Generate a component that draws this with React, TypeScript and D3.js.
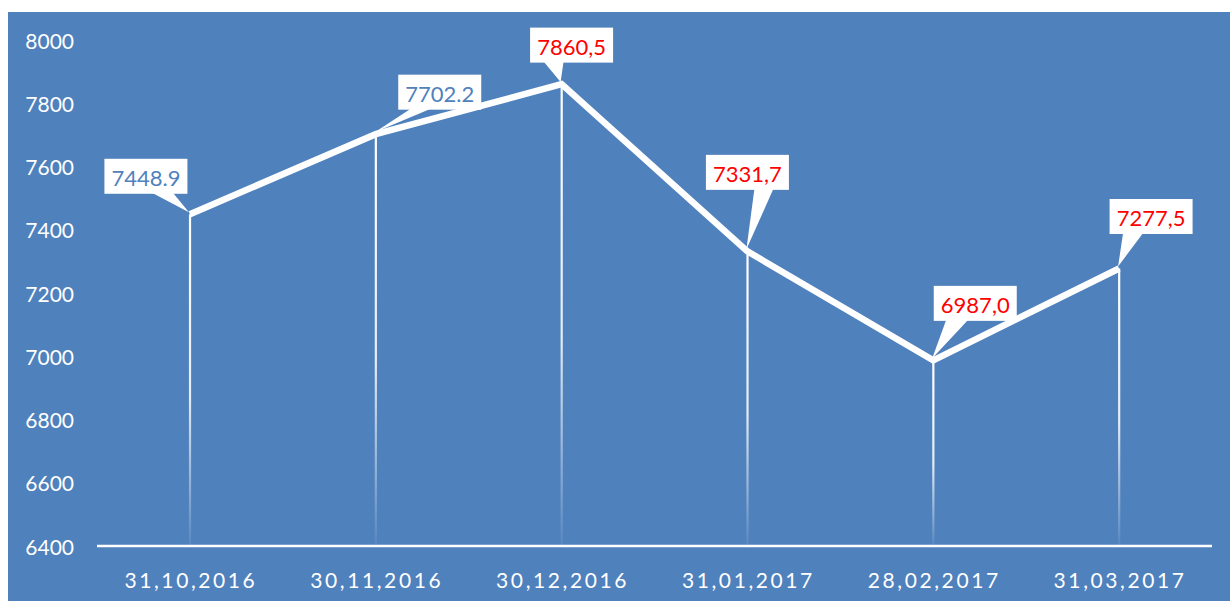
import * as d3 from 'd3'

const DATES = ['31,10,2016', '30,11,2016', '30,12,2016', '31,01,2017', '28,02,2017', '31,03,2017']
const VALUES = [7448.9, 7702.2, 7860.5, 7331.7, 6987.0, 7277.5]
const LABELS = ['7448.9', '7702.2', '7860,5', '7331,7', '6987,0', '7277,5']
const Y_TICKS = [6400, 6600, 6800, 7000, 7200, 7400, 7600, 7800, 8000]

// callout placement relative to the point (box centre offset, pointer base on box bottom)
const CALLOUT = [
  { dx: -44, dy: -38, b0: 6, b1: 27, color: '#4f81bd' },
  { dx: 64, dy: -42, b0: -29, b1: -9, color: '#4f81bd' },
  { dx: 10, dy: -39, b0: -28, b1: -8, color: '#ff0000' },
  { dx: 0, dy: -79, b0: 7, b1: 26, color: '#ff0000' },
  { dx: 42, dy: -57, b0: -29, b1: -7, color: '#ff0000' },
  { dx: 32, dy: -52, b0: -28, b1: -8, color: '#ff0000' },
]

const W = 1230
const H = 601
const BG = '#4f81bd'
const FONT = 'Lato, "Open Sans", sans-serif'
const M = { top: 40, right: 18, bottom: 55, left: 97 }
const BOX_W = 83
const BOX_H = 35

export default function App() {
  const x = d3.scaleBand<string>().domain(DATES).range([M.left, W - M.right])
  const y = d3.scaleLinear().domain([6400, 8000]).range([H - M.bottom, M.top])
  const cx = (d: string) => (x(d) ?? 0) + x.bandwidth() / 2
  const pts: [number, number][] = VALUES.map((v, i) => [cx(DATES[i]), y(v)])
  const line = d3.line()(pts) ?? ''
  const base = y(6400)

  return (
    <div style={{ position: 'fixed', left: 0, top: 0 }}>
      <svg width={W} height={H} style={{ display: 'block' }}>
        <defs>
          <linearGradient id="drop" x1="0" y1="0" x2="0" y2="1">
            <stop offset="0" stopColor="#fff" stopOpacity={1} />
            <stop offset="0.55" stopColor="#fff" stopOpacity={0.85} />
            <stop offset="1" stopColor="#fff" stopOpacity={0.05} />
          </linearGradient>
        </defs>
        <rect x={8} y={12} width={W - 8} height={H - 12} fill={BG} />

        {Y_TICKS.map(t => (
          <text key={t} x={74} y={y(t)} textAnchor="end" dominantBaseline="central"
            fill="#fff" fontFamily={FONT} fontSize={21}>{t}</text>
        ))}

        {DATES.map(d => (
          <text key={d} x={cx(d) + 1} y={base + 33} textAnchor="middle" dominantBaseline="central"
            fill="#fff" fontFamily={FONT} fontSize={21} letterSpacing={2.6}>{d}</text>
        ))}

        {pts.map(([px, py], i) => (
          <rect key={i} x={px - 1} y={py} width={2.2} height={base - py} fill="url(#drop)" />
        ))}

        <line x1={M.left} x2={W - M.right} y1={base} y2={base} stroke="#fff" strokeWidth={2.5} />

        <path d={line} fill="none" stroke="#fff" strokeWidth={6.5} strokeLinejoin="miter" />

        {pts.map(([px, py], i) => {
          const c = CALLOUT[i]
          const bx = px + c.dx
          const by = py + c.dy
          const bottom = by + BOX_H / 2
          const ptr = `M${bx + c.b0},${bottom - 1}L${px - 1},${py - 2}L${bx + c.b1},${bottom - 1}Z`
          return (
            <g key={i}>
              <path d={ptr} fill="#fff" />
              <rect x={bx - BOX_W / 2} y={by - BOX_H / 2} width={BOX_W} height={BOX_H} fill="#fff" />
              <text x={bx} y={by + 1} textAnchor="middle" dominantBaseline="central"
                fill={c.color} fontFamily={FONT} fontSize={22}>{LABELS[i]}</text>
            </g>
          )
        })}
      </svg>
    </div>
  )
}
